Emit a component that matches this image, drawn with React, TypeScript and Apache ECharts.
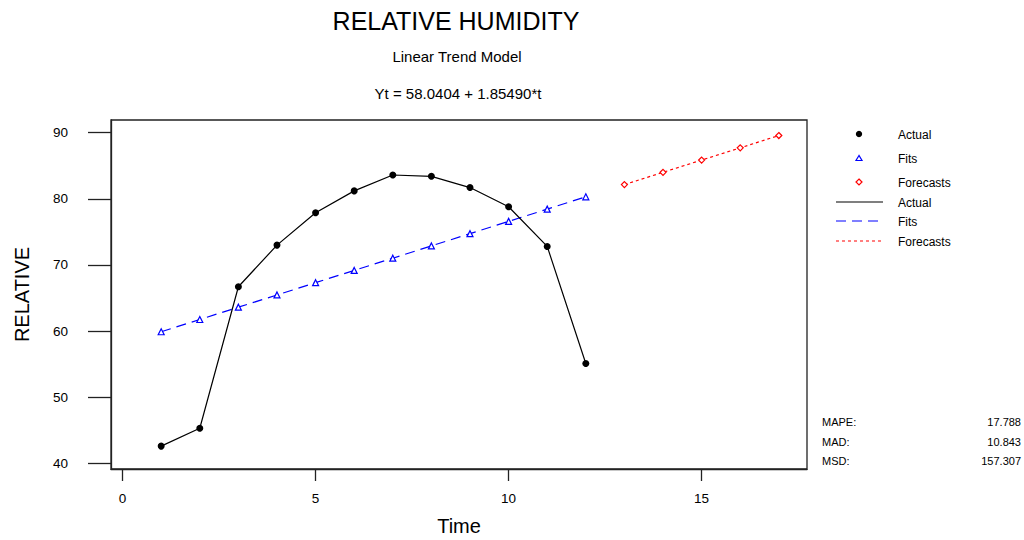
import React, { useEffect, useRef } from "react";
import * as echarts from "echarts";

const timeIdx = [1, 2, 3, 4, 5, 6, 7, 8, 9, 10, 11, 12];
const actualValues = [42.6, 45.3, 66.7, 73.0, 77.9, 81.2, 83.6, 83.4, 81.7, 78.8, 72.8, 55.1];
const fitValues = [59.9, 61.75, 63.61, 65.46, 67.32, 69.17, 71.02, 72.88, 74.73, 76.59, 78.44, 80.30];
const forecastTime = [13, 14, 15, 16, 17];
const forecastValues = [82.15, 84.01, 85.86, 87.71, 89.57];
const xTicks = [0, 5, 10, 15];
const yTicks = [40, 50, 60, 70, 80, 90];
const statNames = ["MAPE:", "MAD:", "MSD:"];
const statValues = ["17.788", "10.843", "157.307"];

const FONT = "Liberation Sans, Arial, sans-serif";

export default function App() {
  const ref = useRef<HTMLDivElement>(null);
  useEffect(() => {
    if (!ref.current) return;
    const chart = echarts.init(ref.current, null, { renderer: "svg" });
    const pair = (xs: number[], ys: number[]) => xs.map((x, i) => [x, ys[i]]);
    const legendX = 859;
    const textX = 898;
    const graphics: any[] = [
      { type: "text", style: { text: "RELATIVE HUMIDITY", x: 456, y: 21, align: "center", verticalAlign: "middle", fontSize: 25, fontFamily: FONT, fill: "#000" } },
      { type: "text", style: { text: "Linear Trend Model", x: 457, y: 56, align: "center", verticalAlign: "middle", fontSize: 15, fontFamily: FONT, fill: "#000" } },
      { type: "text", style: { text: "Yt = 58.0404 + 1.85490*t", x: 458, y: 93, align: "center", verticalAlign: "middle", fontSize: 15, fontFamily: FONT, fill: "#000" } },
      // legend markers
      { type: "circle", shape: { cx: legendX, cy: 134, r: 3.2 }, style: { fill: "#000" } },
      { type: "polygon", shape: { points: [[legendX, 155.5], [legendX - 3, 160.5], [legendX + 3, 160.5]] }, style: { fill: "#fff", stroke: "#0000ff", lineWidth: 1.2 } },
      { type: "polygon", shape: { points: [[legendX, 179], [legendX + 3, 182], [legendX, 185], [legendX - 3, 182]] }, style: { fill: "#fff", stroke: "#ff0000", lineWidth: 1.2 } },
      { type: "line", shape: { x1: 836, y1: 202, x2: 883, y2: 202 }, style: { stroke: "#000", lineWidth: 1.2 } },
      { type: "line", shape: { x1: 836, y1: 221, x2: 883, y2: 221 }, style: { stroke: "#0000ff", lineWidth: 1.2, lineDash: [10, 6] } },
      { type: "line", shape: { x1: 836, y1: 241, x2: 883, y2: 241 }, style: { stroke: "#ff0000", lineWidth: 1.2, lineDash: [3, 3] } },
      ...["Actual", "Fits", "Forecasts", "Actual", "Fits", "Forecasts"].map((t, i) => ({
        type: "text",
        style: { text: t, x: textX, y: [135, 159, 183, 203, 222, 242][i], verticalAlign: "middle", fontSize: 12, fontFamily: FONT, fill: "#000" },
      })),
      ...statNames.map((t, i) => ({
        type: "text",
        style: { text: t, x: 822, y: 422 + i * 19.5, verticalAlign: "middle", fontSize: 11, fontFamily: FONT, fill: "#000" },
      })),
      ...statValues.map((t, i) => ({
        type: "text",
        style: { text: t, x: 1021, y: 422 + i * 19.5, align: "right", verticalAlign: "middle", fontSize: 11, fontFamily: FONT, fill: "#000" },
      })),
    ];
    chart.setOption({
      animation: false,
      backgroundColor: "#fff",
      textStyle: { fontFamily: FONT },
      grid: { left: 111, top: 120, width: 696, height: 349, show: true, borderColor: "#222", borderWidth: 1.3, backgroundColor: "transparent", outerBoundsMode: "none", containLabel: false },
      xAxis: {
        type: "value",
        min: -0.3,
        max: 17.73,
        name: "Time",
        nameLocation: "middle",
        nameGap: 47,
        nameTextStyle: { fontSize: 20, color: "#000", fontFamily: FONT },
        axisLine: { show: true, onZero: false, lineStyle: { color: "#222", width: 1.3 } },
        axisTick: { show: true, length: 12, customValues: xTicks, lineStyle: { color: "#222", width: 1.3 } },
        axisLabel: { customValues: xTicks, margin: 22, fontSize: 13.5, color: "#000", fontFamily: FONT },
        splitLine: { show: false },
      },
      yAxis: {
        type: "value",
        min: 39.14,
        max: 91.92,
        name: "RELATIVE",
        nameLocation: "middle",
        nameGap: 79,
        nameTextStyle: { fontSize: 20, color: "#000", fontFamily: FONT },
        axisLine: { show: true, onZero: false, lineStyle: { color: "#222", width: 1.3 } },
        axisTick: { show: true, length: 23, customValues: yTicks, lineStyle: { color: "#222", width: 1.3 } },
        axisLabel: { customValues: yTicks, margin: 43, fontSize: 13.5, color: "#000", fontFamily: FONT },
        splitLine: { show: false },
      },
      series: [
        {
          name: "Fits",
          type: "line",
          data: pair(timeIdx, fitValues),
          symbol: "triangle",
          symbolSize: 6,
          showAllSymbol: true,
          lineStyle: { color: "#0000ff", width: 1.2, type: [10, 6] },
          itemStyle: { color: "#fff", borderColor: "#0000ff", borderWidth: 1.2 },
        },
        {
          name: "Forecasts",
          type: "line",
          data: pair(forecastTime, forecastValues),
          symbol: "diamond",
          symbolSize: 6,
          lineStyle: { color: "#ff0000", width: 1.2, type: [3, 3] },
          itemStyle: { color: "#fff", borderColor: "#ff0000", borderWidth: 1.2 },
        },
        {
          name: "Actual",
          type: "line",
          data: pair(timeIdx, actualValues),
          symbol: "circle",
          symbolSize: 7,
          lineStyle: { color: "#000", width: 1.2 },
          itemStyle: { color: "#000", borderWidth: 0 },
        },
      ],
      graphic: graphics,
    });
    return () => chart.dispose();
  }, []);
  return <div ref={ref} style={{ position: "absolute", left: 0, top: 0, width: 1024, height: 540 }} />;
}
